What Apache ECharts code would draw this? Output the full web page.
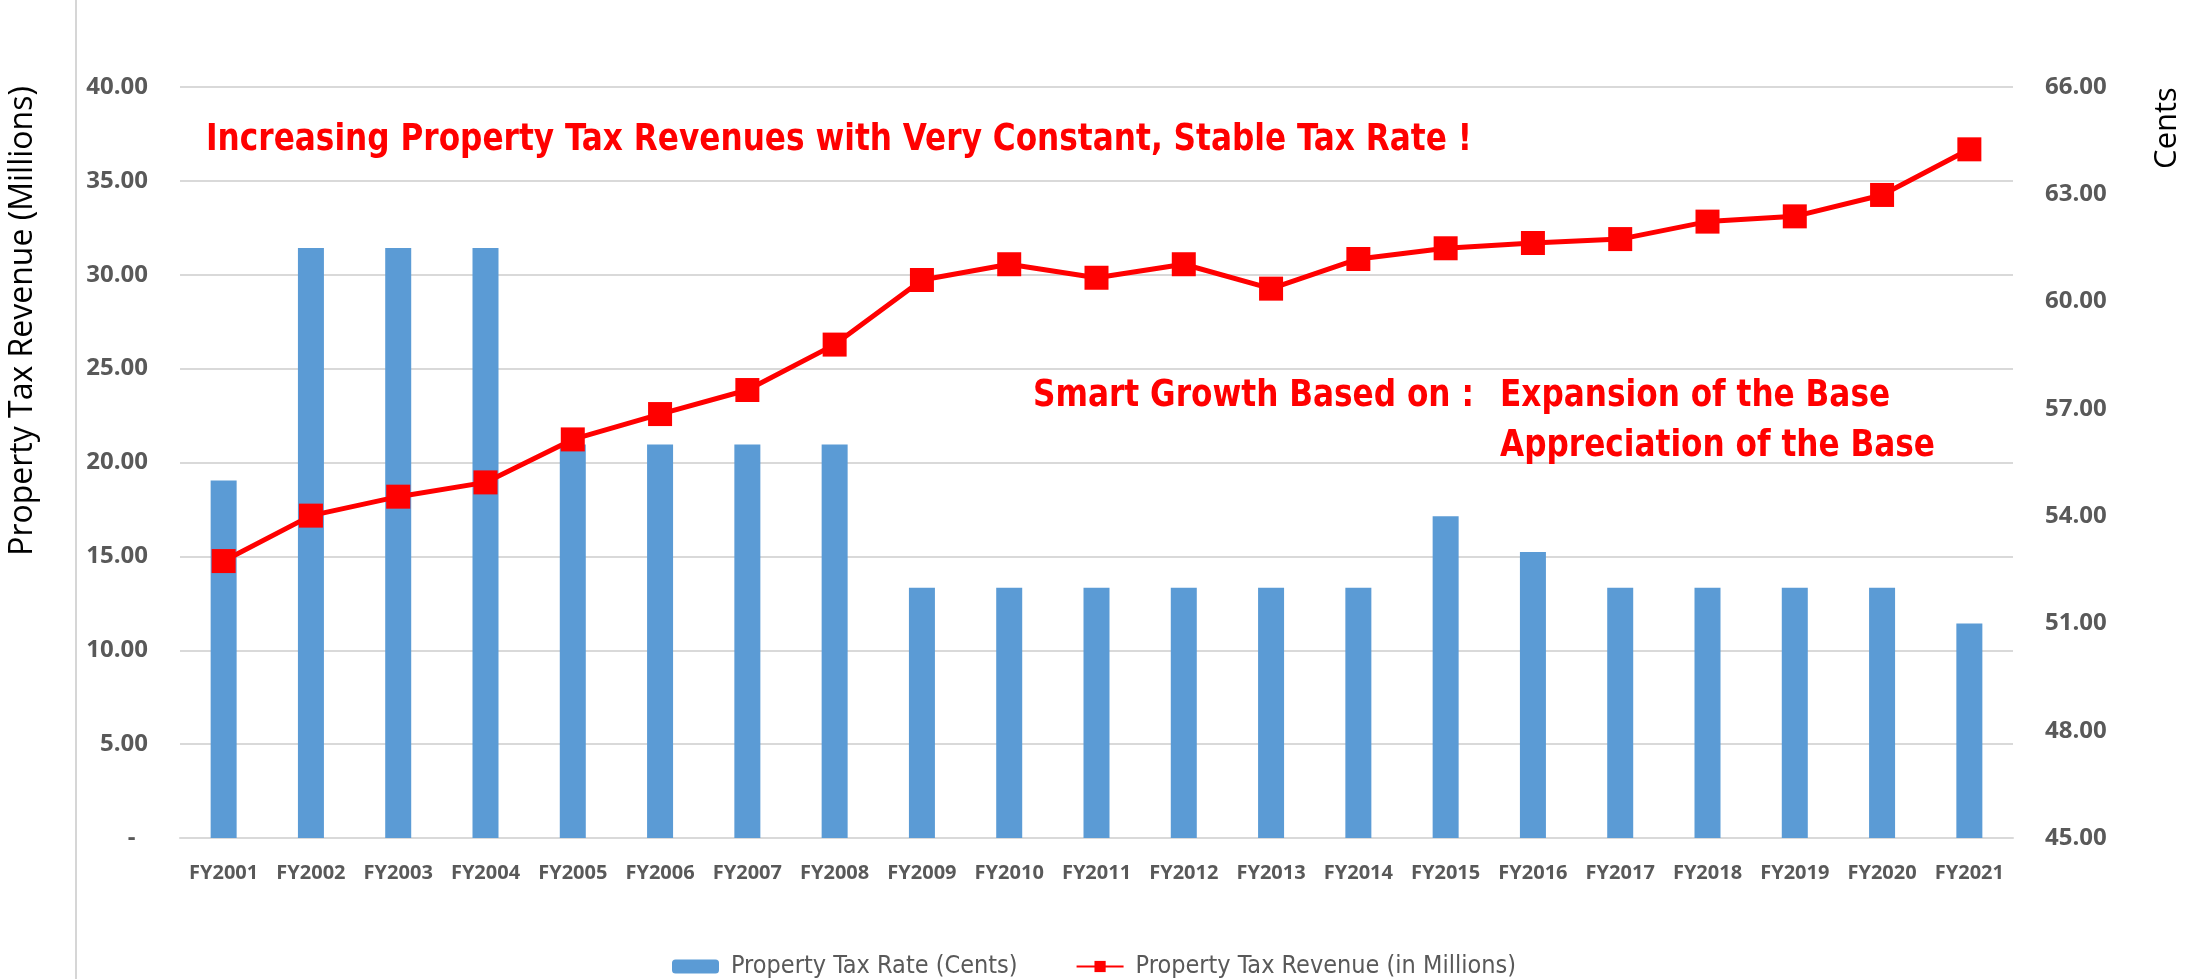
<!DOCTYPE html>
<html>
<head>
<meta charset="UTF-8">
<title>Property Tax Revenue vs Tax Rate</title>
<script src="https://cdn.jsdelivr.net/npm/echarts@6/dist/echarts.min.js"></script>
<style>
    html, body { margin: 0; padding: 0; background: #fff; }
    #main { width: 2188px; height: 979px; }
</style>
</head>
<body>
<div id="main"></div>
<script>
    // categories
    var years = ['FY2001', 'FY2002', 'FY2003', 'FY2004', 'FY2005', 'FY2006', 'FY2007',
        'FY2008', 'FY2009', 'FY2010', 'FY2011', 'FY2012', 'FY2013', 'FY2014',
        'FY2015', 'FY2016', 'FY2017', 'FY2018', 'FY2019', 'FY2020', 'FY2021'];
    // bars, right axis (cents)
    var taxRate = [55.0, 61.5, 61.5, 61.5, 56.0, 56.0, 56.0, 56.0, 52.0, 52.0, 52.0,
        52.0, 52.0, 52.0, 54.0, 53.0, 52.0, 52.0, 52.0, 52.0, 51.0];
    // line, left axis (millions)
    var taxRevenue = [14.75, 17.17, 18.18, 18.94, 21.23, 22.58, 23.86, 26.28, 29.72, 30.56,
        29.84, 30.56, 29.26, 30.84, 31.41, 31.69, 31.90, 32.83, 33.11, 34.25, 36.68];

    var leftTicks = {min: 0, max: 40, interval: 5};
    var rightTicks = {min: 45, max: 66, interval: 3};

    var gb = {
        bar: '#5b9bd5',
        line: '#ff0000',
        grid: '#d9d9d9',
        text: '#595959',
        note: '#ff0000',
        font: "'Open Sans', 'DejaVu Sans', sans-serif",
        narrow: "'Liberation Sans Narrow', 'DejaVu Sans Condensed', sans-serif"
    };

    // red call-out text, squeezed a bit like the original condensed face
    function note(text, x, y) {
        return {
            type: 'text', x: x, y: y, z: 10, scaleX: 0.912,
            style: {text: text, fill: gb.note, fontSize: 38, fontWeight: 'bold',
                fontFamily: gb.narrow, align: 'left', verticalAlign: 'middle'}
        };
    }

    var myChart = echarts.init(document.getElementById('main'));

    var option = {
        animation: false,
        backgroundColor: '#fff',
        grid: {left: 180, right: 175, top: 87, bottom: 141},
        legend: {
            left: 667,
            top: 949,
            itemWidth: 47,
            itemHeight: 14,
            itemGap: 58,
            textStyle: {color: gb.text, fontSize: 25, fontFamily: gb.narrow, padding: [0, 0, 0, 7]},
            data: ['Property Tax Rate (Cents)', 'Property Tax Revenue (in Millions)']
        },
        xAxis: {
            type: 'category',
            data: years,
            axisTick: {show: false},
            axisLine: {lineStyle: {color: gb.grid, width: 2}},
            axisLabel: {color: gb.text, fontWeight: 'bold', fontSize: 20, fontFamily: gb.font,
                margin: 25, interval: 0}
        },
        yAxis: [
            {
                type: 'value',
                min: leftTicks.min,
                max: leftTicks.max,
                interval: leftTicks.interval,
                axisLine: {show: false},
                axisTick: {show: false},
                splitLine: {lineStyle: {color: gb.grid, width: 2}},
                axisLabel: {
                    color: gb.text, fontWeight: 'bold', fontSize: 24, fontFamily: gb.font, margin: 32,
                    formatter: function (v) {
                        return v === 0 ? '-  ' : v.toFixed(2);
                    }
                }
            },
            {
                type: 'value',
                min: rightTicks.min,
                max: rightTicks.max,
                interval: rightTicks.interval,
                axisLine: {show: false},
                axisTick: {show: false},
                splitLine: {show: false},
                axisLabel: {
                    color: gb.text, fontWeight: 'bold', fontSize: 24, fontFamily: gb.font, margin: 32,
                    formatter: function (v) {
                        return v.toFixed(2);
                    }
                }
            }
        ],
        series: [
            {
                name: 'Property Tax Rate (Cents)',
                type: 'bar',
                yAxisIndex: 1,
                data: taxRate,
                barWidth: 26,
                itemStyle: {color: gb.bar},
                z: 2
            },
            {
                name: 'Property Tax Revenue (in Millions)',
                type: 'line',
                yAxisIndex: 0,
                data: taxRevenue,
                symbol: 'rect',
                symbolSize: 24,
                lineStyle: {color: gb.line, width: 5},
                itemStyle: {color: gb.line},
                z: 5
            }
        ],
        graphic: [
            // thin border line at left
            {type: 'line', shape: {x1: 76, y1: 0, x2: 76, y2: 979}, style: {stroke: '#c8c8c8', lineWidth: 1.5}},
            {
                type: 'text', x: 23, y: 321, rotation: Math.PI / 2,
                style: {text: 'Property Tax Revenue (Millions)', fill: '#000', fontSize: 32,
                    fontFamily: gb.font, align: 'center', verticalAlign: 'middle'}
            },
            {
                type: 'text', x: 2167, y: 128, rotation: Math.PI / 2,
                style: {text: 'Cents', fill: '#000', fontSize: 31,
                    fontFamily: gb.font, align: 'center', verticalAlign: 'middle'}
            },
            note('Increasing Property Tax Revenues with Very Constant, Stable Tax Rate !', 206, 140),
            note('Smart Growth Based on :', 1033, 396),
            note('Expansion of the Base', 1500, 396),
            note('Appreciation of the Base', 1500, 446)
        ]
    };

    myChart.setOption(option);
</script>
</body>
</html>
